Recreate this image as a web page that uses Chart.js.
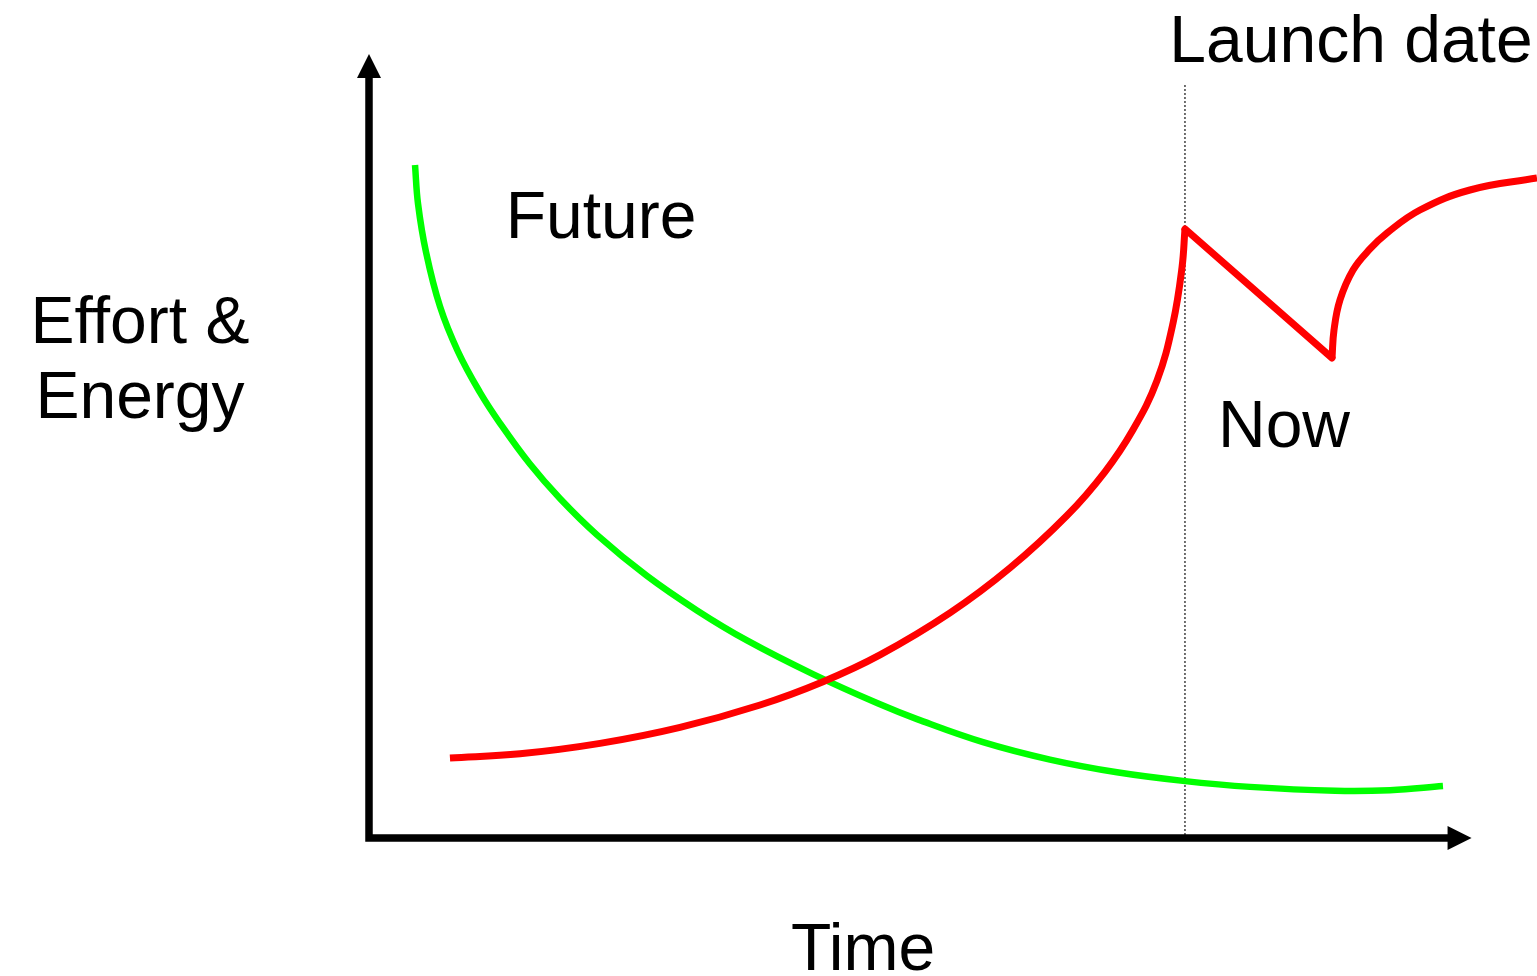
<!DOCTYPE html>
<html>
<head>
<meta charset="utf-8">
<script src="https://cdn.jsdelivr.net/npm/chart.js@4/dist/chart.umd.min.js"></script>
<style>
  html, body { margin: 0; padding: 0; background: #fff; }
  canvas { display: block; }
</style>
</head>
<body>
<canvas id="effort-chart" width="1537" height="976"></canvas>
<script>
// values are in "time" (0-100) and "effort" (0-100) units
var futureTime   = [3.94, 4.20, 4.88, 6.08, 7.62, 9.50, 11.22, 13.78, 16.35, 19.52, 23.80, 28.08, 32.36, 38.01, 43.75, 46.92, 52.57, 58.30, 64.04, 69.69, 75.43, 82.71, 87.41, 91.95];
var futureEffort = [84.13, 79.25, 73.25, 66.43, 60.80, 55.71, 51.84, 46.74, 42.43, 37.89, 32.76, 28.45, 24.70, 20.49, 16.71, 14.86, 11.98, 9.80, 8.21, 7.14, 6.39, 5.91, 5.98, 6.5];

var nowTime   = [6.93, 12.93, 19.78, 26.63, 33.48, 38.87, 43.75, 49.74, 54.88, 59.76, 63.01, 65.41, 67.47, 68.84, 69.61, 69.86];
var nowEffort = [10.0, 10.53, 11.83, 13.83, 16.63, 19.54, 22.89, 28.14, 33.76, 40.31, 45.78, 51.03, 57.18, 64.38, 71.35, 76.13];

var dropTime   = [69.86, 82.45];
var dropEffort = [76.13, 60.0];

var afterTime   = [82.45, 82.62, 83.13, 84.25, 85.70, 87.16, 89.98, 94.26, 100];
var afterEffort = [60.0, 63.5, 67.25, 71.0, 73.63, 75.63, 78.5, 81.0, 82.5];

var launchTime = 69.86;
var launchSpan = [94.1, 0.4];

var axisEnd = { time: 94.4, effort: 98 };

var labelTexts = ["Launch date", "Future", "Now", "Effort &", "Energy", "Time"];

function toPoints(xs, ys) {
    var pts = [];
    for (let i = 0; i < xs.length; i++) {
        pts.push({ x: xs[i], y: ys[i] });
    }
    return pts;
}

var textFont = "66px 'Comic Sans MS', 'Liberation Sans', sans-serif";

// axes with arrow heads and the text labels
var decorations = {
    id: "decorations",
    afterDatasetsDraw: function(chart) {
        var ctx = chart.ctx;
        var xs = chart.scales.x;
        var ys = chart.scales.y;
        var ox = xs.getPixelForValue(0);
        var oy = ys.getPixelForValue(0);
        var tipX = xs.getPixelForValue(axisEnd.time);
        var tipY = ys.getPixelForValue(axisEnd.effort);

        ctx.save();
        ctx.strokeStyle = "#000";
        ctx.fillStyle = "#000";
        ctx.lineWidth = 7.5;
        ctx.lineCap = "butt";

        ctx.beginPath();
        ctx.moveTo(ox, oy + 3.75);
        ctx.lineTo(ox, tipY + 20);
        ctx.moveTo(ox - 3.75, oy);
        ctx.lineTo(tipX - 20, oy);
        ctx.stroke();

        ctx.beginPath();
        ctx.moveTo(ox, tipY);
        ctx.lineTo(ox - 12, tipY + 24);
        ctx.lineTo(ox + 12, tipY + 24);
        ctx.closePath();
        ctx.fill();

        ctx.beginPath();
        ctx.moveTo(tipX, oy);
        ctx.lineTo(tipX - 24, oy - 12);
        ctx.lineTo(tipX - 24, oy + 12);
        ctx.closePath();
        ctx.fill();

        ctx.font = textFont;
        ctx.textAlign = "center";
        ctx.textBaseline = "alphabetic";
        var spots = [[1351, 62], [601, 238], [1284, 447], [140, 343], [140, 418], [863, 970]];
        for (let i = 0; i < labelTexts.length; i++) {
            ctx.fillText(labelTexts[i], spots[i][0], spots[i][1]);
        }
        ctx.restore();
    }
};

var chart = new Chart(document.getElementById("effort-chart"), {
    type: "line",
    data: {
        datasets: [
            {
                data: toPoints([launchTime, launchTime], launchSpan),
                borderColor: "#000",
                borderWidth: 1.5,
                borderDash: [1.5, 2.5],
                pointRadius: 0,
                order: 5
            },
            {
                data: toPoints(futureTime, futureEffort),
                borderColor: "#00ff00",
                borderWidth: 6.5,
                tension: 0.4,
                pointRadius: 0,
                order: 2
            },
            {
                data: toPoints(nowTime, nowEffort),
                borderColor: "#ff0000",
                borderWidth: 7,
                tension: 0.4,
                pointRadius: 0,
                order: 1
            },
            {
                data: toPoints(dropTime, dropEffort),
                borderColor: "#ff0000",
                borderWidth: 7,
                borderCapStyle: "round",
                tension: 0,
                pointRadius: 0,
                order: 1
            },
            {
                data: toPoints(afterTime, afterEffort),
                borderColor: "#ff0000",
                borderWidth: 7,
                tension: 0.4,
                pointRadius: 0,
                order: 1
            }
        ]
    },
    options: {
        responsive: false,
        animation: false,
        layout: { padding: { left: 369, right: 0, top: 38, bottom: 138 } },
        plugins: {
            legend: { display: false },
            tooltip: { enabled: false }
        },
        scales: {
            x: { type: "linear", min: 0, max: 100, display: false },
            y: { type: "linear", min: 0, max: 100, display: false }
        }
    },
    plugins: [decorations]
});
</script>
</body>
</html>
